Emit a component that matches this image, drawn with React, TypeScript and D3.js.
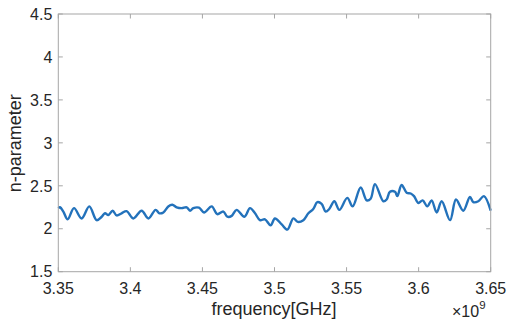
import React from 'react'
import * as d3 from 'd3'

// frequency in GHz (axis is shown in Hz with x10^9 exponent)
const freqGHz = [
  3.35, 3.3512, 3.3535, 3.3565, 3.3609, 3.3662, 3.3715, 3.3766, 3.3801, 3.3824,
  3.3847, 3.3877, 3.3905, 3.3939, 3.3974, 3.402, 3.4078, 3.4125, 3.4175, 3.4201,
  3.4229, 3.4263, 3.4291, 3.4321, 3.4356, 3.4391, 3.4414, 3.4437, 3.4476, 3.4511,
  3.4564, 3.4603, 3.4645, 3.4673, 3.4703, 3.4737, 3.4791, 3.483, 3.4865, 3.4899,
  3.4934, 3.4973, 3.5003, 3.505, 3.5089, 3.5131, 3.5161, 3.52, 3.5235, 3.5269,
  3.5297, 3.5327, 3.5355, 3.538, 3.5415, 3.545, 3.5505, 3.5542, 3.5598, 3.564,
  3.5667, 3.5697, 3.5755, 3.5778, 3.5801, 3.5836, 3.5852, 3.5882, 3.5917, 3.5945,
  3.5968, 3.5998, 3.6028, 3.606, 3.609, 3.6125, 3.616, 3.6218, 3.6259, 3.631,
  3.6356, 3.6379, 3.6414, 3.6453, 3.65,
]
const nParam = [
  2.24, 2.25, 2.2, 2.11, 2.24, 2.12, 2.26, 2.1, 2.14, 2.18,
  2.16, 2.21, 2.155, 2.18, 2.205, 2.12, 2.21, 2.12, 2.22, 2.18,
  2.19, 2.26, 2.28, 2.25, 2.24, 2.25, 2.21, 2.24, 2.245, 2.19,
  2.26, 2.17, 2.2, 2.14, 2.15, 2.22, 2.14, 2.24, 2.18, 2.1,
  2.11, 2.04, 2.12, 2.05, 1.99, 2.12, 2.08, 2.1, 2.18, 2.23,
  2.31, 2.29, 2.2, 2.23, 2.32, 2.22, 2.36, 2.26, 2.48, 2.33,
  2.35, 2.52, 2.32, 2.34, 2.43, 2.43, 2.38, 2.51, 2.42, 2.41,
  2.38, 2.3, 2.33, 2.26, 2.33, 2.19, 2.32, 2.1, 2.34, 2.21,
  2.37, 2.31, 2.32, 2.38, 2.21,
]
const xTicks = [3.35, 3.4, 3.45, 3.5, 3.55, 3.6, 3.65]
const yTicks = [1.5, 2, 2.5, 3, 3.5, 4, 4.5]

const W = 515
const H = 324
const L = 58.3
const R = 490.7
const T = 14
const B = 271.7
const font = 'Liberation Sans, Arial, sans-serif'
const tickLen = 4.5

export default function App() {
  const x = d3.scaleLinear().domain([3.35, 3.65]).range([L, R])
  const y = d3.scaleLinear().domain([1.5, 4.5]).range([B, T])
  const line = d3
    .line<number>()
    .x((_, i) => x(freqGHz[i]))
    .y(d => y(d))
    .curve(d3.curveCatmullRom.alpha(0.5))

  const fmt = (v: number) => String(+v.toFixed(2))

  return (
    <svg width={W} height={H} style={{ position: 'absolute', left: 0, top: 0, background: '#fff' }}>
      <rect x={0} y={0} width={W} height={H} fill="#fff" />
      <path d={line(nParam) || ''} fill="none" stroke="#2372bb" strokeWidth={2.4} strokeLinejoin="round" />
      <rect x={L} y={T} width={R - L} height={B - T} fill="none" stroke="#a6a6a6" strokeWidth={1} />
      {xTicks.map(t => (
        <g key={'x' + t}>
          <line x1={x(t)} x2={x(t)} y1={B} y2={B - tickLen} stroke="#a6a6a6" />
          <line x1={x(t)} x2={x(t)} y1={T} y2={T + tickLen} stroke="#a6a6a6" />
          <text x={x(t)} y={293.5} textAnchor="middle" fontFamily={font} fontSize={16} fill="#262626">
            {fmt(t)}
          </text>
        </g>
      ))}
      {yTicks.map(t => (
        <g key={'y' + t}>
          <line x1={L} x2={L + tickLen} y1={y(t)} y2={y(t)} stroke="#a6a6a6" />
          <line x1={R} x2={R - tickLen} y1={y(t)} y2={y(t)} stroke="#a6a6a6" />
          <text x={52.3} y={y(t) + 5.7} textAnchor="end" fontFamily={font} fontSize={16} fill="#262626">
            {fmt(t)}
          </text>
        </g>
      ))}
      <text x={274} y={314.5} textAnchor="middle" fontFamily={font} fontSize={18} fill="#262626">
        frequency[GHz]
      </text>
      <text
        transform={`translate(21.2, 143.3) rotate(-90)`}
        textAnchor="middle"
        fontFamily={font}
        fontSize={18}
        fill="#262626"
      >
        n-parameter
      </text>
      <text x={452} y={316.7} fontFamily={font} fontSize={16} fill="#262626">
        ×10
        <tspan dy={-7.5} fontSize={11.5}>9</tspan>
      </text>
    </svg>
  )
}
